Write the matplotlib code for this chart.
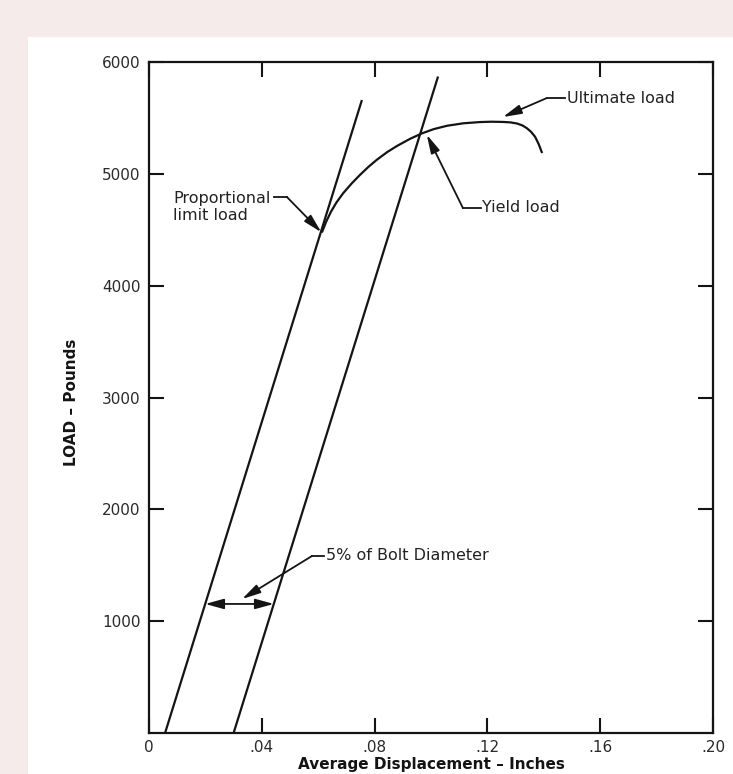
import matplotlib.pyplot as plt
import numpy as np
from matplotlib.patches import Rectangle

# straight elastic lines (displacement in, load lb)
prop_x = [0.0057, 0.0755]
prop_y = [0, 5660]
offset_x = [0.0300, 0.1025]
offset_y = [0, 5870]

# load-displacement curve beyond the proportional limit
curve_x = [0.0613, 0.0628, 0.0645, 0.0665, 0.0688, 0.0718, 0.0748, 0.0778, 0.0809,
           0.0845, 0.0880, 0.0925, 0.0968, 0.1010, 0.1057, 0.1115, 0.1174, 0.1215,
           0.1255, 0.1282, 0.1305, 0.1324, 0.1340, 0.1355, 0.1369, 0.1382, 0.1394]
curve_y = [4475, 4570, 4660, 4745, 4825, 4912, 4990, 5062, 5128,
           5195, 5250, 5312, 5362, 5400, 5430, 5452, 5463, 5466,
           5464, 5460, 5450, 5433, 5408, 5375, 5332, 5265, 5186]

x_ticks = [0, 0.04, 0.08, 0.12, 0.16, 0.20]
x_labels = ['0', '.04', '.08', '.12', '.16', '.20']
y_ticks = [1000, 2000, 3000, 4000, 5000, 6000]
y_labels = ['1000', '2000', '3000', '4000', '5000', '6000']

dim_load = 1154  # level of the 5% offset dimension arrow

ink = '#141414'
fig = plt.figure(figsize=(7.33, 7.74), dpi=100, facecolor='#f5ebeb')
fig.patches.append(Rectangle((28 / 733, 0), 1, (774 - 37) / 774, transform=fig.transFigure,
                             facecolor='white', edgecolor='none', zorder=-10))

ax = fig.add_axes([149 / 733, (774 - 733) / 774, (713 - 149) / 733, (733 - 62) / 774])
ax.set_facecolor('white')

ax.plot(prop_x, prop_y, color=ink, lw=1.6, solid_capstyle='butt')
ax.plot(offset_x, offset_y, color=ink, lw=1.6, solid_capstyle='butt')
ax.plot(curve_x, curve_y, color=ink, lw=1.6, solid_capstyle='butt', solid_joinstyle='round')

ax.set_xlim(0, 0.2)
ax.set_ylim(0, 6000)
ax.set_xticks(x_ticks)
ax.set_xticklabels(x_labels)
ax.set_yticks(y_ticks)
ax.set_yticklabels(y_labels)
ax.tick_params(direction='in', length=11, width=1.5, top=True, right=True,
               labelsize=11, labelcolor='#2a2a2a', color=ink)
ax.tick_params(axis='x', pad=5)
ax.tick_params(axis='y', pad=6)
for s in ax.spines.values():
    s.set_linewidth(1.6)
    s.set_color(ink)

fig.text(72 / 733, 1 - 402 / 774, 'LOAD \u2013 Pounds', rotation=90, ha='center', va='center',
         fontsize=11, fontweight='bold', color=ink)
fig.text(431 / 733, 2 / 774, 'Average Displacement \u2013 Inches', ha='center', va='bottom',
         fontsize=11, fontweight='bold', color=ink)

arrow = dict(arrowstyle='-|>,head_length=0.8,head_width=0.2', color=ink, lw=1.3,
             shrinkA=0, shrinkB=0, mutation_scale=14)
txt = dict(fontsize=11.5, color='#222222', va='center')

# Ultimate load
ax.plot([0.1411, 0.1475], [5678, 5678], color=ink, lw=1.3)
ax.annotate('', xy=(0.1255, 5508), xytext=(0.1411, 5678), arrowprops=arrow)
ax.text(0.1482, 5678, 'Ultimate load', ha='left', **txt)

# Yield load
ax.plot([0.1113, 0.1176], [4695, 4695], color=ink, lw=1.3)
ax.annotate('', xy=(0.0985, 5350), xytext=(0.1113, 4695), arrowprops=arrow)
ax.text(0.1181, 4695, 'Yield load', ha='left', **txt)

# Proportional limit load
ax.plot([0.0445, 0.0489], [4793, 4793], color=ink, lw=1.3)
ax.annotate('', xy=(0.0611, 4478), xytext=(0.0489, 4793), arrowprops=arrow)
ax.text(0.0085, 4700, 'Proportional\nlimit load', ha='left', linespacing=1.15, **txt)

# 5% of bolt diameter
ax.plot([0.0578, 0.0620], [1583, 1583], color=ink, lw=1.3)
ax.annotate('', xy=(0.0330, 1198), xytext=(0.0578, 1583), arrowprops=arrow)
ax.text(0.0626, 1583, '5% of Bolt Diameter', ha='left', **txt)

d1 = np.interp(dim_load, prop_y, prop_x)
d2 = np.interp(dim_load, offset_y, offset_x)
ax.annotate('', xy=(d2, dim_load), xytext=(d1, dim_load),
            arrowprops=dict(arrowstyle='<|-|>,head_length=0.8,head_width=0.22', color=ink,
                            lw=1.3, shrinkA=0, shrinkB=0, mutation_scale=14))

fig.savefig('out.png', dpi=100, facecolor=fig.get_facecolor())
